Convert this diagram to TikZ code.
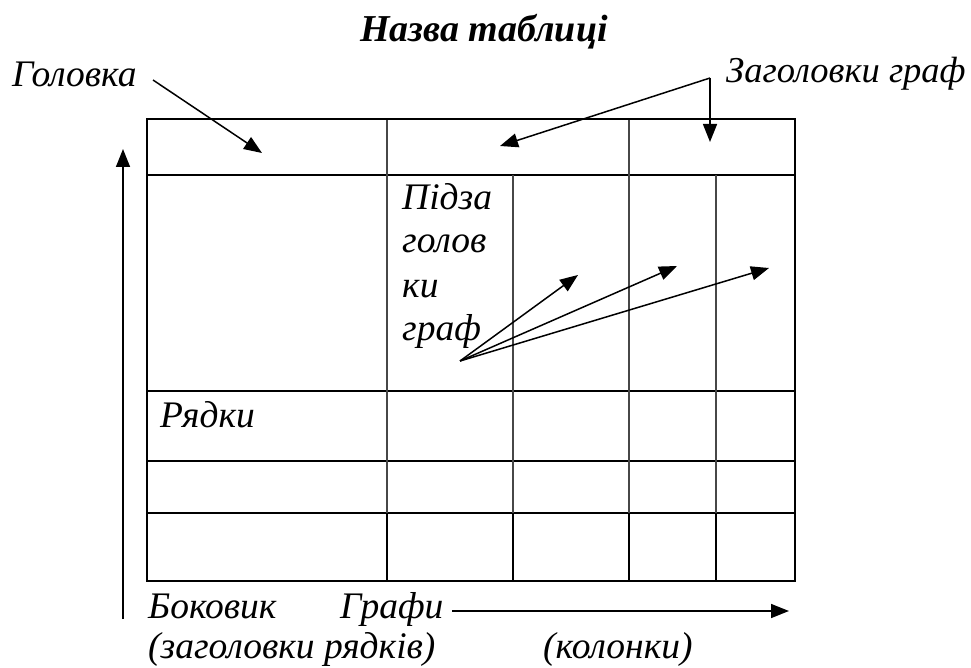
\documentclass[tikz,border=0pt]{standalone}
\usepackage{fontspec}
\setmainfont{Liberation Serif}
\usetikzlibrary{arrows.meta}
\tikzset{
  lbl/.style={inner sep=0pt, anchor=base west, font=\fontsize{37.5}{44}\selectfont\itshape},
  frame/.style={line width=2pt, black},
  hline/.style={line width=2pt, black},
  vthin/.style={line width=1.3pt, black!72},
  vthick/.style={line width=1.9pt, black},
  arr/.style={line width=1.5pt, -{Triangle[length=18pt,width=14pt]}}
}
\begin{document}
\begin{tikzpicture}[x=1pt,y=-1pt]
\useasboundingbox (0,0) rectangle (971,668);
% table grid
\draw[hline] (147,175) -- (795,175);
\draw[hline] (147,391) -- (795,391);
\draw[hline] (147,461) -- (795,461);
\draw[hline] (147,513) -- (795,513);
\draw[vthin] (387,119) -- (387,513);
\draw[vthin] (629,119) -- (629,513);
\draw[vthin] (513,175) -- (513,513);
\draw[vthin] (716,175) -- (716,513);
\draw[vthick] (387,513) -- (387,581);
\draw[vthick] (513,513) -- (513,581);
\draw[vthick] (629,513) -- (629,581);
\draw[vthick] (716,513) -- (716,581);
\draw[frame] (147,119) rectangle (795,581);
% texts
\node[lbl, font=\fontsize{38}{44}\selectfont\bfseries\itshape, anchor=base] (title) at (484,42) {Назва таблиці};
\node[lbl] (golovka) at (12,87) {Головка};
\node[lbl, font=\fontsize{36.5}{44}\selectfont\itshape] (zag) at (726,83) {Заголовки граф};
\node[lbl] (pidz1) at (402,210) {Підза};
\node[lbl] (pidz2) at (402,253) {голов};
\node[lbl] (pidz3) at (402,297) {ки};
\node[lbl] (pidz4) at (402,340) {граф};
\node[lbl] (rjadky) at (160,427) {Рядки};
\node[lbl] (bokovyk) at (148,618) {Боковик};
\node[lbl] (grafy) at (340,618) {Графи};
\node[lbl] (zagr) at (148,658) {(заголовки рядків)};
\node[lbl] (kolonky) at (543,658) {(колонки)};
% arrow coordinates
\coordinate (g0) at (153,80);
\coordinate (g1) at (262,153);
\coordinate (z0) at (710,78);
\coordinate (z1) at (500,146);
\coordinate (z2) at (710,142);
\coordinate (p0) at (460,361);
\coordinate (p1) at (578,275);
\coordinate (p2) at (677,266);
\coordinate (p3) at (769,268);
\coordinate (b0) at (123,619);
\coordinate (b1) at (123,149);
\coordinate (r0) at (452,611);
\coordinate (r1) at (789,611);
% arrows
\draw[arr] (g0) -- (g1);
\draw[arr] (z0) -- (z1);
\draw[arr] (z0) -- (z2);
\draw[arr] (p0) -- (p1);
\draw[arr] (p0) -- (p2);
\draw[arr] (p0) -- (p3);
\draw[arr] (b0) -- (b1);
\draw[arr] (r0) -- (r1);
\end{tikzpicture}
\end{document}
